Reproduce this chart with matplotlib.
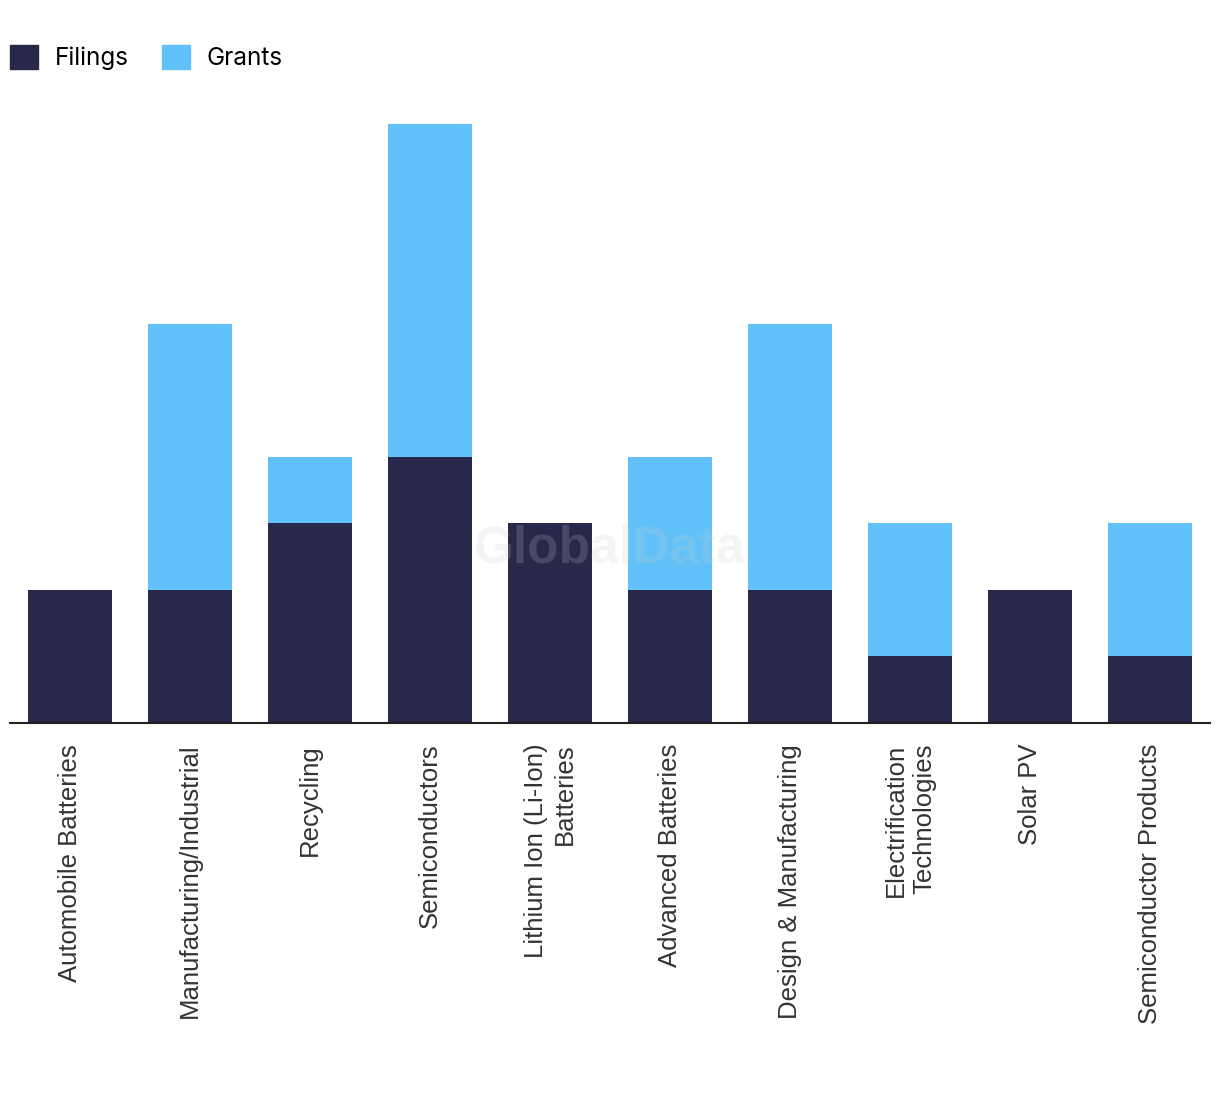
import matplotlib.pyplot as plt
from matplotlib.patches import Patch

categories = [
    "Automobile Batteries",
    "Manufacturing/Industrial",
    "Recycling",
    "Semiconductors",
    "Lithium Ion (Li-Ion)\nBatteries",
    "Advanced Batteries",
    "Design & Manufacturing",
    "Electrification\nTechnologies",
    "Solar PV",
    "Semiconductor Products",
]
filings = [2, 2, 3, 4, 3, 2, 2, 1, 2, 1]
grants = [0, 4, 1, 5, 0, 2, 4, 2, 0, 2]

navy = "#27284a"
blue = "#62c1f9"

fig = plt.figure(figsize=(12.2, 10.94), dpi=100)
ax = fig.add_axes([10 / 1220, 1 - 723 / 1094, 1200 / 1220, 599 / 1094])

x = range(len(categories))
ax.bar(x, filings, width=0.7, color=navy, zorder=2)
ax.bar(x, grants, width=0.7, bottom=filings, color=blue, zorder=2)

ax.set_xlim(-0.5, len(categories) - 0.5)
ax.set_ylim(0, 9)
ax.set_yticks([])
ax.set_xticks(list(x))
ax.set_xticklabels(categories, rotation=90, ha="center", va="top",
                   multialignment="right", fontsize=18.5, linespacing=1.25,
                   family="Liberation Sans", color="#333333")
ax.tick_params(axis="x", length=0, pad=15)
for s in ["left", "right", "top"]:
    ax.spines[s].set_visible(False)
ax.spines["bottom"].set_color("#222222")
ax.spines["bottom"].set_linewidth(1.5)
ax.spines["bottom"].set_zorder(3)

# watermark
ax.text(0.5, 0.29, "GlobalData", transform=ax.transAxes, ha="center", va="center",
        fontsize=37, fontweight="bold", color=(0.8, 0.8, 0.8), alpha=0.2,
        family="Liberation Sans", zorder=5)

handles = [Patch(color=navy, label="Filings"), Patch(color=blue, label="Grants")]
fig.legend(handles=handles, loc="upper left", bbox_to_anchor=(10 / 1220, 1 - 45 / 1094),
           ncol=2, frameon=False, handlelength=1.15, handleheight=1.15,
           handletextpad=0.7, columnspacing=1.35, borderaxespad=0, borderpad=0,
           prop={"family": "Inter", "size": 17.5})

fig.savefig("out.png", dpi=100)
